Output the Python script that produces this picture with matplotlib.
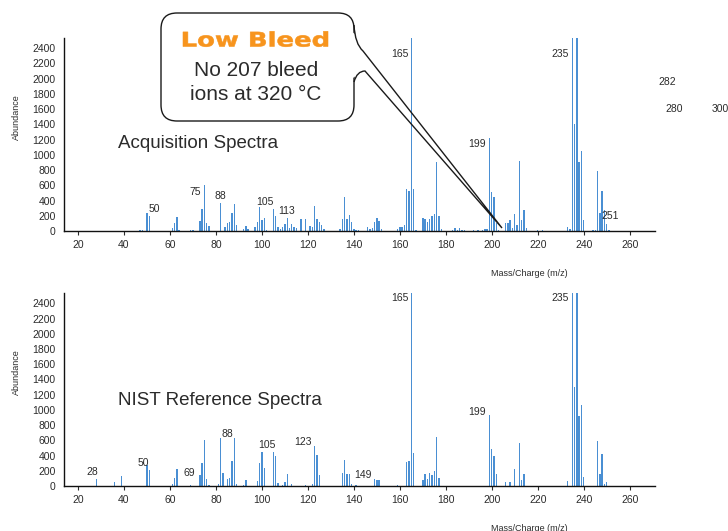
import matplotlib
matplotlib.use("Agg")
import matplotlib.pyplot as plt
from matplotlib.patches import FancyBboxPatch, PathPatch, Polygon
from matplotlib.path import Path
from matplotlib.textpath import TextPath
from matplotlib.font_manager import FontProperties
from matplotlib.transforms import Affine2D

plt.rcParams["font.family"] = ["Liberation Sans", "DejaVu Sans"]

# Acquired spectrum (m/z, abundance)
acq_mz = [47, 48, 50, 51, 52, 61, 62, 63, 64, 69, 70, 73, 74, 75, 76, 77,
          82, 84, 85, 86, 87, 88, 89, 92, 93, 94, 97, 98, 99, 100, 101, 102,
          105, 106, 107, 108, 109, 110, 111, 112, 113, 114, 115, 117, 119,
          121, 122, 123, 124, 125, 126, 127, 134, 135, 136, 137, 138, 139,
          140, 141, 142, 146, 147, 148, 149, 150, 151, 152, 159, 160, 161,
          162, 163, 164, 165, 166, 167, 170, 171, 172, 173, 174, 175, 176,
          177, 178, 183, 184, 185, 186, 187, 188, 192, 194, 196, 197, 198,
          199, 200, 201, 202, 203, 206, 207, 208, 209, 210, 211, 212, 213,
          214, 215, 220, 222, 233, 234, 235, 236, 237, 238, 239, 240, 244,
          245, 246, 247, 248, 249, 250, 251]
acq_ab = [10, 15, 237, 193, 5, 40, 100, 185, 10, 15, 10, 127, 290, 606, 105, 66,
          365, 57, 100, 123, 237, 356, 75, 20, 62, 26, 53, 119, 312, 145, 171, 13,
          286, 202, 53, 31, 53, 97, 171, 44, 97, 57, 44, 160, 158,
          66, 53, 330, 163, 119, 79, 22, 31, 163, 452, 158, 211, 120,
          22, 18, 18, 50, 31, 40, 115, 172, 125, 31, 20, 48, 48,
          79, 552, 525, 2600, 552, 18, 166, 157, 114, 157, 197, 219, 901,
          193, 22, 13, 35, 18, 39, 13, 13, 9, 9, 9, 22, 31,
          1220, 511, 450, 100, 13, 110, 110, 140, 35, 223, 74, 918, 149,
          275, 39, 13, 18, 52, 26, 2600, 1403, 2600, 901, 1049, 144, 13,
          13, 787, 232, 520, 276, 92, 18]

# NIST library spectrum (m/z, abundance)
nist_mz = [28, 36, 39, 50, 51, 61, 62, 63, 69, 73, 74, 75, 76, 77, 81, 82, 83,
           85, 86, 87, 88, 89, 92, 93, 98, 99, 100, 101, 105, 106, 107, 109,
           110, 111, 113, 119, 122, 123, 124, 125, 135, 136, 137, 138, 139,
           141, 149, 150, 151, 159, 163, 164, 165, 166, 170, 171, 172, 173,
           174, 175, 176, 177, 199, 200, 201, 202, 206, 208, 210, 212, 213,
           214, 233, 235, 236, 237, 238, 239, 240, 246, 247, 248, 249, 250]
nist_ab = [92, 53, 132, 277, 211, 26, 101, 229, 9, 141, 303, 602, 88, 9, 26, 637, 176,
           88, 110, 334, 633, 22, 9, 84, 70, 308, 448, 233, 448, 396, 44, 9,
           53, 158, 31, 9, 31, 532, 404, 149, 167, 338, 158, 158, 22,
           9, 97, 84, 79, 9, 321, 334, 2600, 435, 79, 158, 92, 176,
           145, 198, 646, 105, 927, 488, 396, 154, 57, 57, 229, 571, 79,
           158, 66, 2600, 1297, 2600, 914, 1059, 123, 593, 163, 422, 26, 53]

# peak annotations: text, x, y
acq_labels = [("50", 53.0, 292), ("75", 71.1, 516), ("88", 81.9, 455),
              ("105", 101.4, 380), ("113", 110.6, 258), ("165", 160.0, 2330),
              ("199", 193.7, 1141), ("235", 229.6, 2330), ("251", 251.4, 193),
              ("282", 276.2, 1958), ("280", 279.5, 1596), ("300", 299.4, 1596)]
nist_labels = [("28", 26.2, 189), ("50", 48.5, 308), ("69", 68.6, 176),
               ("88", 84.9, 681), ("105", 102.1, 541), ("123", 117.9, 572),
               ("149", 143.8, 145), ("165", 160.0, 2463), ("199", 193.7, 972),
               ("235", 229.6, 2463)]

yticks = list(range(0, 2401, 200))
xticks = list(range(20, 261, 20))
BAR_COLOR = "#4a8fd3"
TEXT_COLOR = "#2b2b2b"


def draw_spectrum(ax, mz, ab, labels, title, title_y):
    """Draw one mass spectrum as thin bars with peak labels."""
    ax.bar(mz, ab, width=0.6, color=BAR_COLOR, linewidth=0, zorder=2)
    ax.set_xlim(13.9, 271)
    ax.set_ylim(0, 2535)
    ax.set_xticks(xticks)
    ax.set_yticks(yticks)
    ax.tick_params(labelsize=7.5, colors=TEXT_COLOR, length=3, width=0.8)
    ax.tick_params(axis="y", length=0, pad=6)
    for side in ("top", "right"):
        ax.spines[side].set_visible(False)
    for side in ("left", "bottom"):
        ax.spines[side].set_linewidth(1.0)
        ax.spines[side].set_color("#111111")
    ax.set_ylabel("Abundance", fontsize=6.5, color=TEXT_COLOR)
    ax.yaxis.set_label_coords(-0.072, 0.59)
    ax.set_xlabel("Mass/Charge (m/z)", fontsize=6.5, color=TEXT_COLOR)
    ax.xaxis.set_label_coords(0.788, -0.195)
    for text, x, y in labels:
        ax.text(x, y, text, fontsize=7.5, color=TEXT_COLOR, ha="center",
                va="center", clip_on=False)
    ax.text(37.4, title_y, title, fontsize=13.5, color=TEXT_COLOR,
            ha="left", va="center")


fig = plt.figure(figsize=(7.28, 5.31), dpi=100)
ax_top = fig.add_axes([0.0879, 0.565, 0.8118, 0.3635])
ax_bot = fig.add_axes([0.0879, 0.0847, 0.8118, 0.3635])

draw_spectrum(ax_top, acq_mz, acq_ab, acq_labels, "Acquisition Spectra", 1154)
draw_spectrum(ax_bot, nist_mz, nist_ab, nist_labels, "NIST Reference Spectra", 1125)

# speech-bubble callout, laid out in pixel units (y downwards)
W, H = 728, 531
pix = Affine2D().scale(1 / W, -1 / H).translate(0, 1) + fig.transFigure

box = FancyBboxPatch((161, 13), 193, 108,
                     boxstyle="round,pad=0,rounding_size=16",
                     facecolor="white", edgecolor="#1a1a1a", linewidth=1.0,
                     transform=pix, zorder=5)
fig.add_artist(box)

root = Polygon([(350, 30), (357, 36), (364, 52), (368, 71), (360, 73), (350, 80)],
               closed=True, facecolor="white", edgecolor="none",
               transform=pix, zorder=6)
fig.add_artist(root)

tail = Path([(354, 25), (355, 44), (363, 51), (502, 228),
             (365, 71), (357, 71), (354, 82)],
            [Path.MOVETO, Path.CURVE3, Path.CURVE3, Path.LINETO,
             Path.LINETO, Path.CURVE3, Path.CURVE3])
fig.add_artist(PathPatch(tail, facecolor="none", edgecolor="#1a1a1a",
                         linewidth=1.0, transform=pix, zorder=7))

# heading drawn as a widened glyph outline
heading = TextPath((0, 0), "Low Bleed", size=20,
                   prop=FontProperties(family="DejaVu Sans", weight="bold"))
ext = heading.get_extents()
stretch = 145 / ext.width
head_tf = (Affine2D().translate(-ext.x0, 0).scale(stretch, -1)
           .translate(183, 46.5) + pix)
fig.add_artist(PathPatch(heading, facecolor="#f7941d", edgecolor="#f7941d",
                         linewidth=0.4, transform=head_tf, zorder=8))

fig.text(256 / W, 1 - 70 / H, "No 207 bleed", fontsize=15, color=TEXT_COLOR,
         ha="center", va="center", zorder=8)
fig.text(256 / W, 1 - 94 / H, "ions at 320 \u00b0C", fontsize=15, color=TEXT_COLOR,
         ha="center", va="center", zorder=8)

fig.savefig("out.png", dpi=100)
